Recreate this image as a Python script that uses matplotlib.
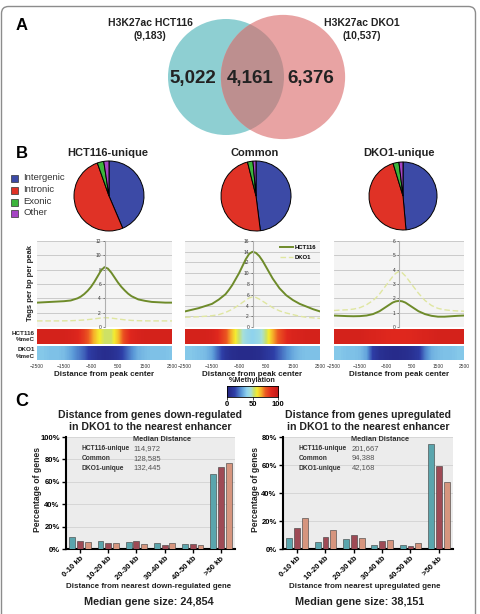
import numpy as np
import matplotlib
matplotlib.use("Agg")
import matplotlib.pyplot as plt
from matplotlib.patches import Circle, Rectangle, FancyBboxPatch
from matplotlib.colors import LinearSegmentedColormap

plt.rcParams['font.family'] = ['Liberation Sans', 'DejaVu Sans']

# ---------------- data ----------------
venn_counts = [5022, 4161, 6376]
venn_totals = [9183, 10537]
venn_names = ['H3K27ac HCT116', 'H3K27ac DKO1']

pie_labels = ['Intergenic', 'Intronic', 'Exonic', 'Other']
pie_colors = ['#3c4aa6', '#e03226', '#3cb53c', '#a544c4']
pie_titles = ['HCT116-unique', 'Common', 'DKO1-unique']
pie_hct_unique = [43.6, 51.0, 3.0, 2.4]
pie_common = [48.0, 48.1, 2.5, 1.4]
pie_dko_unique = [48.6, 46.7, 2.8, 1.9]

prof_x = [-2500, -2250, -2000, -1750, -1500, -1250, -1000, -875, -750, -625, -500, -375, -250, -125, 0,
          125, 250, 375, 500, 625, 750, 875, 1000, 1250, 1500, 1750, 2000, 2250, 2500]
prof_hct_unique_hct = [3.4, 3.45, 3.5, 3.55, 3.6, 3.7, 4.0, 4.25, 4.6, 5.05, 5.6, 6.3, 7.1, 7.9, 8.35,
                       8.15, 7.6, 6.9, 6.2, 5.6, 5.1, 4.65, 4.3, 3.85, 3.65, 3.5, 3.45, 3.4, 3.4]
prof_hct_unique_dko = [0.85, 0.85, 0.85, 0.85, 0.86, 0.88, 0.92, 0.95, 0.98, 1.03, 1.08, 1.14, 1.2, 1.26, 1.3,
                       1.28, 1.25, 1.18, 1.12, 1.06, 1.0, 0.96, 0.92, 0.88, 0.86, 0.85, 0.85, 0.85, 0.85]
prof_common_hct = [2.9, 3.2, 3.5, 3.9, 4.3, 5.1, 6.1, 6.9, 7.8, 8.9, 10.0, 11.3, 12.6, 13.6, 14.0,
                   13.8, 13.2, 12.3, 11.2, 10.1, 9.0, 8.1, 7.2, 5.9, 5.0, 4.3, 3.8, 3.3, 2.9]
prof_common_dko = [1.8, 1.85, 1.9, 2.0, 2.1, 2.3, 2.7, 3.0, 3.3, 3.7, 4.1, 4.55, 5.0, 5.4, 5.6,
                   5.5, 5.2, 4.8, 4.4, 4.0, 3.6, 3.3, 3.0, 2.6, 2.3, 2.0, 1.8, 1.7, 1.6]
prof_dko_unique_hct = [0.8, 0.78, 0.76, 0.75, 0.76, 0.8, 0.9, 1.0, 1.1, 1.25, 1.4, 1.55, 1.7, 1.79, 1.82,
                       1.79, 1.7, 1.55, 1.4, 1.25, 1.1, 1.0, 0.9, 0.78, 0.72, 0.72, 0.75, 0.78, 0.8]
prof_dko_unique_dko = [1.15, 1.18, 1.2, 1.25, 1.35, 1.55, 1.85, 2.05, 2.3, 2.6, 2.9, 3.2, 3.5, 3.75, 3.88,
                       3.78, 3.55, 3.25, 2.95, 2.65, 2.35, 2.1, 1.85, 1.5, 1.3, 1.2, 1.15, 1.12, 1.1]
prof_ymax = [12, 16, 6]

meth_x = np.arange(-2500, 2501, 250)
meth_hct_unique_hct = [90, 90, 90, 90, 90, 89, 86, 80, 70, 60, 53, 53, 64, 78, 86, 89, 90, 90, 90, 90, 90]
meth_hct_unique_dko = [36, 36, 35, 35, 34, 30, 25, 20, 12, 8, 6, 7, 10, 18, 26, 32, 34, 35, 35, 35, 36]
meth_common_hct = [90, 90, 90, 90, 89, 84, 76, 64, 52, 42, 38, 42, 52, 66, 76, 84, 88, 89, 90, 90, 90]
meth_common_dko = [36, 36, 35, 34, 30, 20, 10, 6, 5, 5, 5, 6, 10, 14, 20, 26, 31, 34, 35, 35, 35]
meth_dko_unique_hct = [90, 90, 90, 90, 90, 89, 88, 87, 86, 85, 85, 85, 86, 87, 88, 89, 90, 90, 90, 90, 90]
meth_dko_unique_dko = [36, 36, 35, 35, 34, 30, 14, 8, 6, 5, 5, 6, 8, 12, 24, 32, 34, 35, 35, 36, 36]

bar_categories = ['0-10 kb', '10-20 kb', '20-30 kb', '30-40 kb', '40-50 kb', '>50 kb']
bar_series = ['HCT116-unique', 'Common', 'DKO1-unique']
bar_colors = ['#5aa5ad', '#9e4a55', '#d6957e']
down_hct = [10.9, 7.4, 6.5, 5.0, 4.7, 67.3]
down_common = [7.1, 5.6, 6.8, 3.8, 4.7, 73.5]
down_dko = [5.9, 5.0, 4.7, 5.3, 3.5, 77.0]
up_hct = [7.8, 5.0, 7.1, 3.1, 3.1, 75.2]
up_common = [15.1, 8.3, 10.2, 5.7, 2.4, 59.6]
up_dko = [22.5, 13.5, 7.6, 6.1, 4.0, 47.8]
down_medians = ['114,972', '128,585', '132,445']
up_medians = ['201,667', '94,388', '42,168']

# ---------------- layout helpers ----------------
W, H = 481, 614
fig = plt.figure(figsize=(W / 100, H / 100), dpi=100)


def axpx(x0, y0, x1, y1, **kw):
    return fig.add_axes([x0 / W, 1 - y1 / H, (x1 - x0) / W, (y1 - y0) / H], **kw)


def T(x, y, s, **kw):
    kw.setdefault('ha', 'center')
    kw.setdefault('va', 'center')
    return fig.text(x / W, 1 - y / H, s, **kw)


bg = axpx(0, 0, W, H)
bg.set_xlim(0, W)
bg.set_ylim(H, 0)
bg.axis('off')
bg.set_zorder(-10)
bg.add_patch(FancyBboxPatch((1.5, 6.5), 474, 640, boxstyle="round,pad=0,rounding_size=7",
                            fc='white', ec='#8c8c8c', lw=1.0, clip_on=False))

# ---------------- Panel A: Venn ----------------
T(22, 25, 'A', fontsize=12, fontweight='bold')
r1 = 58
r2 = r1 * np.sqrt(venn_totals[1] / venn_totals[0])
c1 = Circle((226, 77), r1, fc='#8ecfd2', ec='none')
c2 = Circle((283, 77), r2, fc='#e8a3a3', ec='none')
bg.add_patch(c1)
bg.add_patch(c2)
c3 = Circle((283, 77), r2, fc='#bd8f8f', ec='none')
bg.add_patch(c3)
c3.set_clip_path(c1)
T(150, 23, venn_names[0], fontsize=7.5, fontweight='bold', color='#222')
T(150, 36, f'({venn_totals[0]:,})', fontsize=7.5, fontweight='bold', color='#222')
T(362, 23, venn_names[1], fontsize=7.5, fontweight='bold', color='#222')
T(362, 36, f'({venn_totals[1]:,})', fontsize=7.5, fontweight='bold', color='#222')
for xx, v in zip([193, 250, 311], venn_counts):
    T(xx, 78, f'{v:,}', fontsize=13.5, fontweight='bold', color='#222')

# ---------------- Panel B: pies ----------------
T(22, 153, 'B', fontsize=12, fontweight='bold')
pie_boxes = [(74, 161, 144, 231), (221, 161, 291, 231), (369, 162, 437, 230)]
pie_data = [pie_hct_unique, pie_common, pie_dko_unique]
pie_title_x = [108, 255, 399]
for box, vals, title, tx in zip(pie_boxes, pie_data, pie_titles, pie_title_x):
    ax = axpx(*box)
    ax.pie(vals, colors=pie_colors, startangle=90, counterclock=False,
           wedgeprops=dict(edgecolor='black', linewidth=0.7, clip_on=False))
    ax.set_xlim(-1, 1)
    ax.set_ylim(-1, 1)
    ax.set_aspect('equal')
    ax.axis('off')
    T(tx, 153, title, fontsize=8, fontweight='bold', color='#222')

for i, (lab, col) in enumerate(zip(pie_labels, pie_colors)):
    yc = [178, 190, 202, 213][i]
    bg.add_patch(Rectangle((11.5, yc - 3.5), 7, 7, fc=col, ec='#333', lw=0.5))
    T(23, yc, lab, fontsize=6.8, ha='left', color='#333')

# ---------------- profiles ----------------
prof_boxes = [(37, 241, 172, 327), (185, 241, 320, 327), (334, 241, 464, 327)]
prof_hct = [prof_hct_unique_hct, prof_common_hct, prof_dko_unique_hct]
prof_dko = [prof_hct_unique_dko, prof_common_dko, prof_dko_unique_dko]
meth_hct = [meth_hct_unique_hct, meth_common_hct, meth_dko_unique_hct]
meth_dko = [meth_hct_unique_dko, meth_common_dko, meth_dko_unique_dko]

cmap = LinearSegmentedColormap.from_list('meth', [
    (0.0, '#24237e'), (0.15, '#2f3fa8'), (0.28, '#5b9ad8'), (0.38, '#8fd3ee'),
    (0.46, '#a8e0d8'), (0.52, '#c8e070'), (0.58, '#f4ec30'), (0.66, '#f6b02a'),
    (0.74, '#ec5a22'), (0.85, '#e0281e'), (1.0, '#c01818')])

for i in range(3):
    x0, y0, x1, y1 = prof_boxes[i]
    ax = axpx(x0, y0, x1, y1)
    ax.set_facecolor('#f4f4f4')
    ax.plot(prof_x, prof_hct[i], color='#6e8b2a', lw=1.4, label='HCT116', solid_joinstyle='round')
    ax.plot(prof_x, prof_dko[i], color='#dfe6a0', lw=1.0, ls=(0, (4, 2)), label='DKO1')
    ax.set_xlim(-2500, 2500)
    ax.set_ylim(0, prof_ymax[i])
    ax.set_yticks(np.arange(0, prof_ymax[i] + 1, 2 if prof_ymax[i] > 6 else 1))
    ax.grid(axis='y', color='#c4c4c4', lw=0.6)
    ax.set_axisbelow(True)
    for s in ['top', 'right', 'bottom']:
        ax.spines[s].set_visible(False)
    ax.spines['left'].set_position(('data', 0))
    ax.spines['left'].set_color('#b0b0b0')
    ax.spines['left'].set_linewidth(0.8)
    ax.tick_params(axis='y', labelsize=3.5, length=1.5, width=0.4, pad=1, colors='#333')
    ax.set_xticks([])
    if i == 1:
        ax.legend(loc='upper right', bbox_to_anchor=(1.0, 1.0), frameon=False,
                  handlelength=2.2, handletextpad=0.3, labelspacing=0.9, borderaxespad=0.3,
                  prop=dict(weight='bold', size=4.2))
    # heatmaps
    for row, (ya, yb) in enumerate([(329, 344), (346, 360)]):
        hx = axpx(x0, ya, x1, yb)
        vals = np.array([meth_hct[i], meth_dko[i]][row], dtype=float)[None, :]
        hx.imshow(vals, aspect='auto', cmap=cmap, vmin=0, vmax=100,
                  extent=(-2500 - 125, 2500 + 125, 0, 1), interpolation='bilinear')
        hx.set_xlim(-2500, 2500)
        for s in hx.spines.values():
            s.set_visible(False)
        hx.set_yticks([])
        if row == 1:
            hx.set_xticks([-2500, -1500, -500, 500, 1500, 2500])
            hx.tick_params(axis='x', labelsize=3.5, length=0, pad=3, colors='#333')
        else:
            hx.set_xticks([])
    T((x0 + x1) / 2, 374, 'Distance from peak center', fontsize=5.8, fontweight='bold', color='#222')

T(31, 283, 'Tags per bp per peak', rotation=90, fontsize=5.5, fontweight='bold', color='#222')
T(35, 336.5, 'HCT116\n%meC', ha='right', fontsize=4.5, fontweight='bold', color='#222', linespacing=1.3)
T(35, 353, 'DKO1\n%meC', ha='right', fontsize=4.5, fontweight='bold', color='#222', linespacing=1.3)

# colorbar
cb = axpx(227, 386, 278, 397)
cb.imshow(np.linspace(0, 100, 256)[None, :], aspect='auto', cmap=cmap, vmin=0, vmax=100,
          extent=(0, 100, 0, 1))
cb.set_yticks([])
cb.set_xticks([0, 50, 100])
cb.tick_params(axis='x', labelsize=5.5, length=2, width=0.5, pad=1)
for lab in cb.get_xticklabels():
    lab.set_fontweight('bold')
for s in cb.spines.values():
    s.set_linewidth(0.6)
T(252, 381, '%Methylation', fontsize=5.2, fontweight='bold', color='#222')

# ---------------- Panel C: bar charts ----------------
T(22, 402, 'C', fontsize=13, fontweight='bold')
charts = [
    dict(box=(66, 437, 235, 549), data=[down_hct, down_common, down_dko], ymax=100,
         title='Distance from genes down-regulated\nin DKO1 to the nearest enhancer', tx=150,
         xlabel='Distance from nearest down-regulated gene', xlx=149,
         size='Median gene size: 24,854', sx=149, medians=down_medians,
         sq_x=72, lab_x=82, val_x=133, head_x=162, rows=[449, 458.5, 468], ylx=38),
    dict(box=(283, 437, 453, 549), data=[up_hct, up_common, up_dko], ymax=80,
         title='Distance from genes upregulated\nin DKO1 to the nearest enhancer', tx=368,
         xlabel='Distance from nearest upregulated gene', xlx=365,
         size='Median gene size: 38,151', sx=360, medians=up_medians,
         sq_x=290, lab_x=299, val_x=352, head_x=380, rows=[448.5, 458, 468], ylx=256),
]
offsets = [-0.275, 0.0, 0.275]
headers = []
for ch in charts:
    ax = axpx(*ch['box'])
    ax.set_facecolor('#ececec')
    xs = np.arange(len(bar_categories))
    for k in range(3):
        ax.bar(xs + offsets[k], ch['data'][k], width=0.21, color=bar_colors[k],
               edgecolor='#3a3a3a', linewidth=0.4, zorder=3)
    ax.set_xlim(-0.5, 5.5)
    ax.set_ylim(0, ch['ymax'])
    ax.set_yticks(np.arange(0, ch['ymax'] + 1, 20))
    ax.set_yticklabels([f'{v}%' for v in range(0, ch['ymax'] + 1, 20)])
    ax.grid(axis='y', color='#d6d6d6', lw=0.7, zorder=0)
    ax.set_axisbelow(True)
    ax.spines['top'].set_visible(False)
    ax.spines['right'].set_visible(False)
    ax.spines['left'].set_linewidth(1.5)
    ax.spines['bottom'].set_linewidth(1.5)
    ax.set_xticks(xs)
    ax.set_xticklabels(bar_categories, rotation=45, ha='right', rotation_mode='anchor')
    ax.tick_params(axis='both', labelsize=5.5, length=3, width=1.0, pad=1.5)
    for lab in ax.get_xticklabels() + ax.get_yticklabels():
        lab.set_fontweight('bold')
    T(ch['tx'], 421, ch['title'], fontsize=7.6, fontweight='bold', color='#222', linespacing=1.15)
    T(ch['xlx'], 586.5, ch['xlabel'], fontsize=5.7, fontweight='bold', color='#222')
    T(ch['sx'], 602, ch['size'], fontsize=7.8, fontweight='bold', color='#222')
    T(ch['ylx'], 490, 'Percentage of genes', rotation=90, fontsize=6.2, fontweight='bold', color='#222')
    headers.append(T(ch['head_x'], 439.5, 'Median Distance', fontsize=5.3, fontweight='bold', color='#333'))
    for k in range(3):
        yc = ch['rows'][k]
        bg.add_patch(Rectangle((ch['sq_x'], yc - 3.2), 6.5, 6.5, fc=bar_colors[k], ec='#3a3a3a', lw=0.4))
        T(ch['lab_x'], yc, bar_series[k], ha='left', fontsize=4.8, fontweight='bold', color='#333')
        T(ch['val_x'], yc, ch['medians'][k], ha='left', fontsize=5.5, color='#555')

# underline the legend headers
fig.canvas.draw()
r = fig.canvas.get_renderer()
for h in headers:
    bb = h.get_window_extent(r)
    yy = H - bb.y0 + 0.8
    bg.plot([bb.x0, bb.x1], [yy, yy], color='#333', lw=0.5)

fig.savefig('out.png', dpi=100)
